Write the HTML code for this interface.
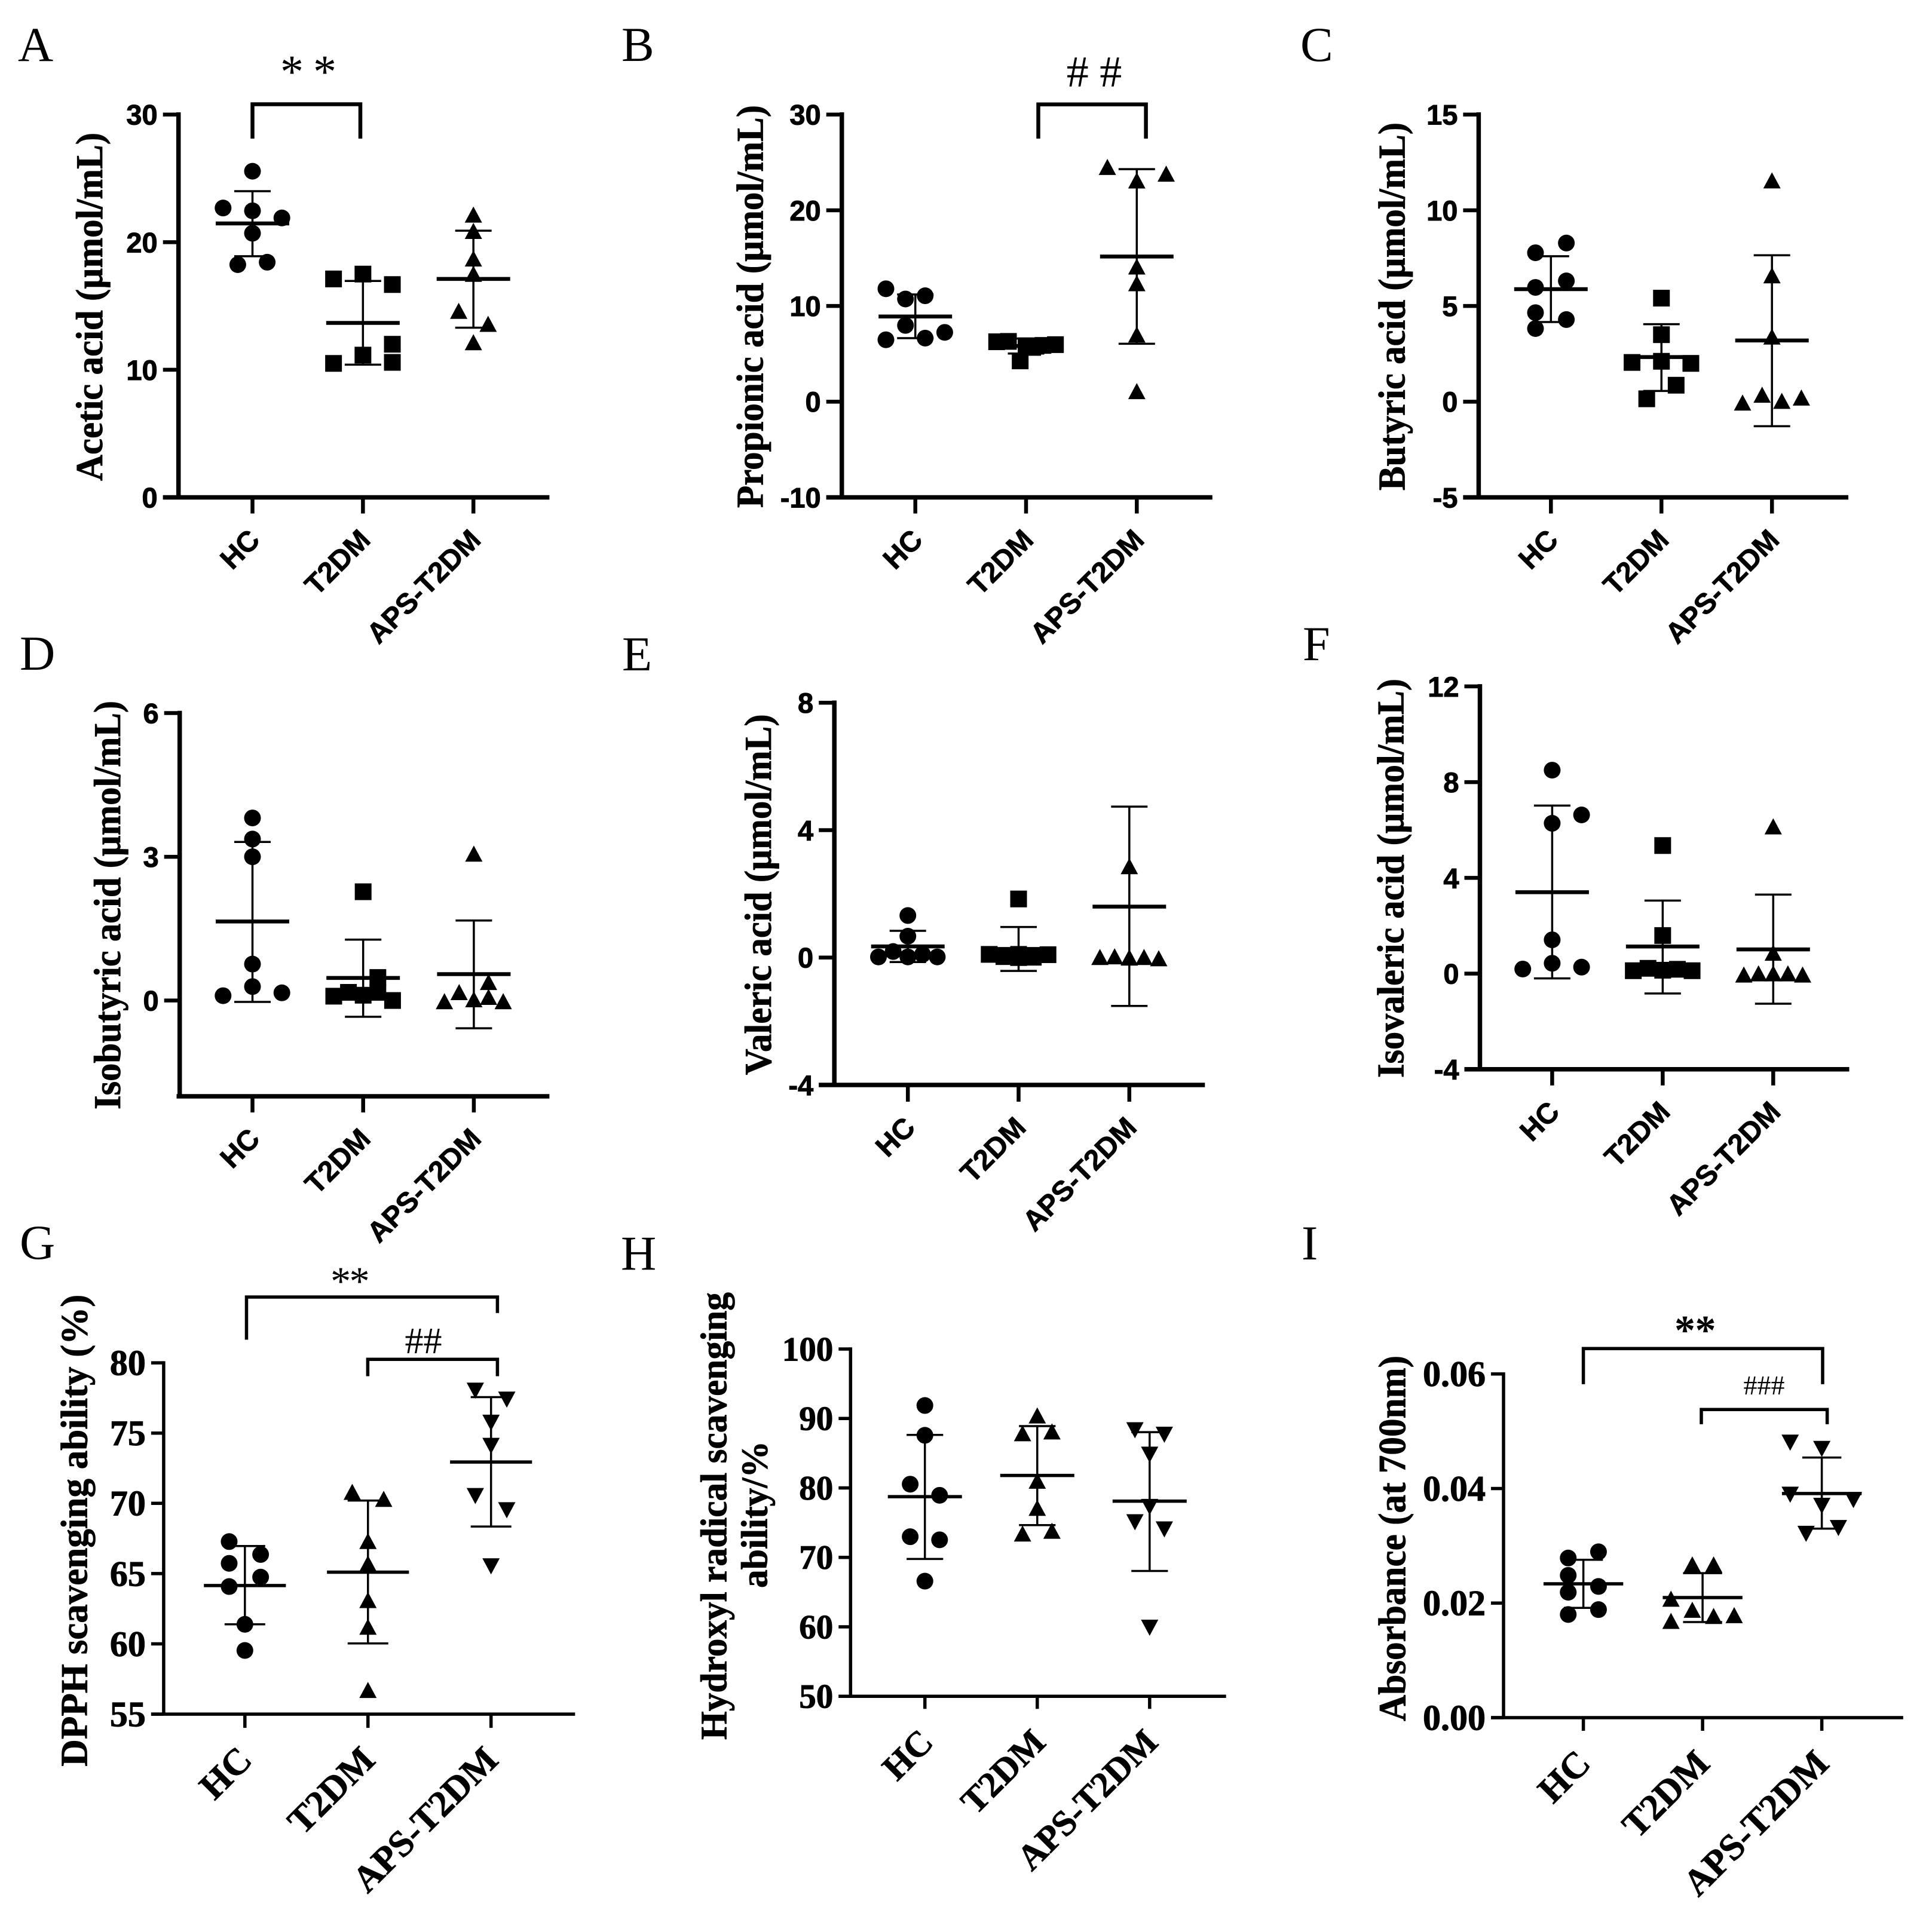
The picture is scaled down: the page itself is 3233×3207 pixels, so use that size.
<!DOCTYPE html>
<html lang="en">
<head>
<meta charset="utf-8">
<title>Short-chain fatty acids and antioxidant ability panels</title>
<style>
html,body{margin:0;padding:0;background:#fff;}
svg{display:block;}
.serif{font-family:"Liberation Serif",serif;}
.sans{font-family:"Liberation Sans",sans-serif;}
.ylab{font-family:"Liberation Serif",serif;font-weight:700;fill:#000;stroke:#000;stroke-width:0.8;text-anchor:middle;}
.letter{font-family:"Liberation Serif",serif;font-size:82px;fill:#000;}
.br{fill:none;stroke:#000;stroke-linejoin:miter;}
.ann{font-family:"Liberation Serif",serif;fill:#000;text-anchor:middle;}
</style>
</head>
<body>
<svg id="figure" xmlns="http://www.w3.org/2000/svg" width="3233" height="3207" viewBox="0 0 3233 3207">
<rect x="0" y="0" width="3233" height="3207" fill="#fff"/>

<text class="letter" x="30" y="102">A</text>
<text class="letter" x="1040" y="102">B</text>
<text class="letter" x="2176" y="102">C</text>
<text class="letter" x="33" y="1121">D</text>
<text class="letter" x="1041" y="1122">E</text>
<text class="letter" x="2180" y="1105">F</text>
<text class="letter" x="33" y="2107">G</text>
<text class="letter" x="1039" y="2125">H</text>
<text class="letter" x="2178" y="2108">I</text>

<text class="ylab" font-size="63" textLength="583" lengthAdjust="spacingAndGlyphs" transform="translate(171,513.5) rotate(-90)">Acetic acid (µmol/mL)</text>
<text class="ylab" font-size="63" textLength="674" lengthAdjust="spacingAndGlyphs" transform="translate(1276.6,513) rotate(-90)">Propionic acid (µmol/mL)</text>
<text class="ylab" font-size="63" textLength="616" lengthAdjust="spacingAndGlyphs" transform="translate(2350.6,513) rotate(-90)">Butyric acid (µmol/mL)</text>
<text class="ylab" font-size="63" textLength="684" lengthAdjust="spacingAndGlyphs" transform="translate(200.9,1515) rotate(-90)">Isobutyric acid (µmol/mL)</text>
<text class="ylab" font-size="63" textLength="604" lengthAdjust="spacingAndGlyphs" transform="translate(1289.8,1497.4) rotate(-90)">Valeric acid (µmol/mL)</text>
<text class="ylab" font-size="63" textLength="668" lengthAdjust="spacingAndGlyphs" transform="translate(2348.5,1470) rotate(-90)">Isovaleric acid (µmol/mL)</text>
<text class="ylab" font-size="64" textLength="790" lengthAdjust="spacingAndGlyphs" transform="translate(145.3,2561.7) rotate(-90)">DPPH scavenging ability (%)</text>
<text class="ylab" font-size="62" textLength="749" lengthAdjust="spacingAndGlyphs" transform="translate(1215.4,2537.5) rotate(-90)">Hydroxyl radical scavenging</text>
<text class="ylab" font-size="62" textLength="246" lengthAdjust="spacingAndGlyphs" transform="translate(1283.6,2535) rotate(-90)">ability/%</text>
<text class="ylab" font-size="65" textLength="612" lengthAdjust="spacingAndGlyphs" transform="translate(2351.5,2575) rotate(-90)">Absorbance (at 700nm)</text>

<path class="br" stroke-width="6.5" d="M422.5 232V174.5H603V232"/>
<text class="ann" font-size="78" word-spacing="-3.5" x="516" y="146">* *</text>
<path class="br" stroke-width="6.5" d="M1737.5 232V174.7H1917.6V232"/>
<text class="ann" font-size="74" x="1831" y="145"># #</text>
<path class="br" stroke-width="5.5" d="M412.5 2242.4V2171H832.4V2197.8"/>
<text class="ann" font-size="68" letter-spacing="-2.5" x="584.6" y="2167">**</text>
<path class="br" stroke-width="5.5" d="M615.4 2303.5V2275.2H832.4V2303.5"/>
<text class="ann" font-size="62" x="708.5" y="2264.8">##</text>
<path class="br" stroke-width="5.5" d="M2649.6 2316.9V2257.3H3050V2316.9"/>
<text class="ann" font-size="70" font-weight="700" letter-spacing="-0.5" x="2836.5" y="2250">**</text>
<path class="br" stroke-width="5.5" d="M2847 2383.9V2359.3H3057.6V2383.9"/>
<text class="ann" font-size="46" x="2952" y="2334">###</text>
</svg>

<script>
const categories = ['HC', 'T2DM', 'APS-T2DM'];

const aTicks = [0, 10, 20, 30];
const aHC = [25.56, 22.68, 22.46, 21.9, 20.7, 18.24, 18.43];
const aHCSlots = [0, -2, 0, 2, 0, -1, 1];
const aT2DM = [17.12, 17.5, 16.68, 12.0, 11.15, 10.5, 10.58];
const aT2DMSlots = [-2, 0, 2, 2, 0, -2, 2];
const aAPS = [22.14, 20.86, 18.7, 17.5, 14.6, 13.58, 12.14];
const aAPSSlots = [0, 0, 0, 0, -1, 1, 0];
const aMeans = [21.47, 13.67, 17.12];
const aUpper = [24.0, 16.96, 20.9];
const aLower = [18.9, 10.4, 13.3];

const bTicks = [-10, 0, 10, 20, 30];
const bHC = [11.8, 10.73, 11.07, 7.97, 7.24, 6.47, 6.64];
const bHCSlots = [-2, -0.67, 0.67, -0.67, 2, -2, 0.67];
const bT2DM = [6.26, 6.3, 4.26, 5.84, 5.67, 5.88, 5.96];
const bT2DMSlots = [-2, -1.2, -0.4, 0, 0.45, 1.15, 2];
const bAPS = [24.5, 23.8, 23.09, 14.1, 12.35, 6.99, 1.07];
const bAPSSlots = [-2, 2, 0, 0, 0, 0, 0];
const bMeans = [8.9, 5.82, 15.17];
const bUpper = [11.2, 6.6, 24.3];
const bLower = [6.64, 5.03, 6.05];

const cTicks = [-5, 0, 5, 10, 15];
const cHC = [7.78, 8.29, 5.97, 6.31, 4.65, 4.29, 3.82];
const cHCSlots = [-1.05, 1.05, -1.05, 1.05, -1.05, 1.05, -1.05];
const cT2DM = [5.41, 3.5, 2.05, 2.11, 2.0, 0.86, 0.15];
const cT2DMSlots = [0, 0, -2, 0, 2, 1, -1];
const cAPS = [11.55, 6.59, 3.39, -0.06, 0.35, 0.03, 0.2];
const cAPSSlots = [0, 0, 0, -2, -0.67, 0.67, 2];
const cMeans = [5.88, 2.33, 3.2];
const cUpper = [7.6, 4.05, 7.65];
const cLower = [4.16, 0.56, -1.28];

const dTicks = [0, 3, 6];
const dHC = [3.81, 3.37, 3.0, 0.76, 0.29, 0.1, 0.16];
const dHCSlots = [0, 0, 0, 0, 0, -2, 2];
const dT2DM = [2.27, 0.48, 0.09, 0.17, 0.11, 0.17, 0.0];
const dT2DMSlots = [0, 1, -2, -1, 0, 1, 2];
const dAPS = [3.06, 0.38, 0.17, -0.02, 0.02, 0.07, -0.02];
const dAPSSlots = [0, 1, -1, -2, 0, 1, 2];
const dMeans = [1.65, 0.47, 0.55];
const dUpper = [3.31, 1.27, 1.67];
const dLower = [-0.03, -0.34, -0.58];

const eTicks = [-4, 0, 4, 8];
const eHC = [1.32, 0.67, 0.19, 0.02, 0.02, 0.1, 0.02];
const eHCSlots = [0, 0, -1, -2, 0, 1, 2];
const eT2DM = [1.84, 0.1, 0.03, 0.1, 0.01, 0.09, 0.0];
const eT2DMSlots = [0, -2, -1, 0, 1, 2, 0];
const eAPS = [2.86, 0.01, 0.03, -0.01, 0.01, -0.03, 0.0];
const eAPSSlots = [0, -2, -1, 0, 1, 2, 0];
const eMeans = [0.35, 0.27, 1.6];
const eUpper = [0.84, 0.96, 4.74];
const eLower = [-0.14, -0.42, -1.52];

const fTicks = [-4, 0, 4, 8, 12];
const fHC = [8.5, 6.63, 6.28, 1.41, 0.43, 0.27, 0.19];
const fHCSlots = [0, 2, 0, 0, 0, 2, -2];
const fT2DM = [5.35, 1.59, 0.12, 0.22, 0.14, 0.18, 0.12];
const fT2DMSlots = [0, 0, -2, -1, 0, 1, 2];
const fAPS = [6.14, 0.86, -0.05, 0.0, 0.0, 0.0, -0.05];
const fAPSSlots = [0, 0, -2, -1, 0, 1, 2];
const fMeans = [3.4, 1.13, 1.01];
const fUpper = [7.02, 3.05, 3.3];
const fLower = [-0.2, -0.83, -1.26];

const gTicks = [55, 60, 65, 70, 75, 80];
const gHC = [67.28, 66.36, 65.73, 64.75, 64.08, 61.39, 59.53];
const gHCSlots = [-1.07, 1.07, -1.07, 1.07, -1.07, 0, 0];
const gT2DM = [70.8, 70.3, 67.3, 65.7, 63.1, 61.2, 56.7];
const gT2DMSlots = [-1.07, 1.07, 0, 0, 0, 0, 0];
const gAPS = [78.04, 77.4, 75.76, 74.11, 70.54, 69.53, 65.54];
const gAPSSlots = [-1.07, 1.07, 0, 0, -1.07, 1.07, 0];
const gMeans = [64.15, 65.1, 72.94];
const gUpper = [66.96, 70.2, 77.56];
const gLower = [61.39, 60.03, 68.35];

const hTicks = [50, 60, 70, 80, 90, 100];
const hHC = [91.87, 87.58, 80.54, 78.94, 72.98, 72.53, 66.58];
const hHCSlots = [0, 0, -1, 1, -1, 1, 0];
const hT2DM = [90.4, 87.84, 88.1, 81.0, 77.1, 73.4, 73.8];
const hT2DMSlots = [0, -1, 1, 0, 0, -1, 1];
const hAPS = [88.35, 87.7, 84.83, 77.3, 75.1, 74.07, 59.92];
const hAPSSlots = [-1, 1, 0, 0, -1, 1, 0];
const hMeans = [78.74, 81.8, 78.1];
const hUpper = [87.64, 88.9, 88.03];
const hLower = [69.78, 74.65, 68.05];

const iTicks = [0, 0.02, 0.04, 0.06];
const iTickLabels = ['0.00', '0.02', '0.04', '0.06'];
const iHC = [0.02895, 0.02787, 0.02484, 0.0229, 0.02189, 0.01886, 0.01801];
const iHCSlots = [1.03, -1.03, -1.03, 1.03, -1.03, 1.03, -1.03];
const iT2DM = [0.0267, 0.0267, 0.02072, 0.01878, 0.0177, 0.01785, 0.01684];
const iT2DMSlots = [-0.7, 0.75, -2.15, -0.7, 0.75, 2.15, -2.15];
const iAPS = [0.04805, 0.04696, 0.03897, 0.03803, 0.03703, 0.03315, 0.03214];
const iAPSSlots = [-2.15, 0, -2.15, 2.15, 0, 1.13, -1.07];
const iMeans = [0.02336, 0.02096, 0.03912];
const iUpper = [0.02756, 0.02523, 0.04541];
const iLower = [0.01917, 0.01669, 0.03299];

const NS = 'http://www.w3.org/2000/svg';
const figure = document.getElementById('figure');
const SLOT = 24.6;

function make(parent, tag, props) {
  const el = document.createElementNS(NS, tag);
  for (const k in props) el.setAttribute(k, props[k]);
  parent.appendChild(el);
  return el;
}

function drawMarker(g, shape, cx, cy, f) {
  let m;
  if (shape === 'circle') {
    m = make(g, 'circle', {cx: cx, cy: cy, r: 14, fill: '#000'});
  } else if (shape === 'square') {
    m = make(g, 'rect', {x: cx - 14, y: cy - 14, width: 28, height: 28, fill: '#000'});
  } else if (shape === 'up') {
    m = make(g, 'polygon', {points: (cx) + ',' + (cy - 14) + ' ' + (cx + 14.5) + ',' + (cy + 13) + ' ' + (cx - 14.5) + ',' + (cy + 13), fill: '#000'});
  } else {
    m = make(g, 'polygon', {points: (cx) + ',' + (cy + 14) + ' ' + (cx + 14.5) + ',' + (cy - 13) + ' ' + (cx - 14.5) + ',' + (cy - 13), fill: '#000'});
  }
  return m;
}

function drawPanel(f, ticks, tickLabels, groups, means, upper, lower) {
  const g = make(figure, 'g', {});
  
  
  const yScale = function (v) { return f.yBot - (v - f.yMin) / (f.yMax - f.yMin) * (f.yBot - f.yTop); };
  const xScale = function (i) { return f.x0 + i * f.step; };
  const family = f.serif ? '"Liberation Serif",serif' : '"Liberation Sans",sans-serif';

  const yAxis = make(g, 'line', {x1: f.axisX, x2: f.axisX, y1: f.yTop - f.axisW / 2, y2: f.yBot, stroke: '#000', 'stroke-width': f.axisW});
  
  
  const xAxis = make(g, 'line', {x1: f.axisX - f.tickLen * (f.noBottomTick ? 0.2 : 1), x2: f.xRight, y1: f.yBot, y2: f.yBot, stroke: '#000', 'stroke-width': f.axisW});
  
  

  ticks.forEach(function (v, i) {
    const y = yScale(v);
    const tick = make(g, 'line', {x1: f.axisX - f.tickLen, x2: f.axisX, y1: y, y2: y, stroke: '#000', 'stroke-width': f.tickW});
    
    
    const lab = make(g, 'text', {x: f.axisX - f.tickLen - f.tickGap, y: y + f.tickFont * f.tickBase, 'text-anchor': 'end', 'font-size': f.tickFont, 'font-weight': 700, 'font-family': family, fill: '#000', stroke: '#000', 'stroke-width': 1});
    
    
    lab.textContent = tickLabels ? tickLabels[i] : String(v);
  });

  categories.forEach(function (c, i) {
    const x = xScale(i);
    const tick = make(g, 'line', {x1: x, x2: x, y1: f.yBot, y2: f.yBot + f.xTickLen, stroke: '#000', 'stroke-width': f.tickW});
    
    
    const px = x + f.labDx;
    const py = f.yBot + f.labDy;
    const lab = make(g, 'text', {transform: 'translate(' + px + ',' + py + ') rotate(-45)', 'text-anchor': 'end', 'font-size': f.labFont, 'font-weight': 700, 'font-family': family, fill: '#000', stroke: '#000', 'stroke-width': 0.8});
    
    
    lab.textContent = c;
  });

  groups.forEach(function (grp, i) {
    const gg = make(g, 'g', {});
    
    
    const cx = xScale(i);
    grp.values.forEach(function (v, j) {
      const m = drawMarker(gg, grp.shape, cx + grp.slots[j] * SLOT, yScale(v), f);
      
      
    });
    const stem = make(gg, 'line', {x1: cx, x2: cx, y1: yScale(upper[i]), y2: yScale(lower[i]), stroke: '#000', 'stroke-width': f.sdW});
    
    
    const capU = make(gg, 'line', {x1: cx - f.capHalf, x2: cx + f.capHalf, y1: yScale(upper[i]), y2: yScale(upper[i]), stroke: '#000', 'stroke-width': f.sdW});
    
    
    const capL = make(gg, 'line', {x1: cx - f.capHalf, x2: cx + f.capHalf, y1: yScale(lower[i]), y2: yScale(lower[i]), stroke: '#000', 'stroke-width': f.sdW});
    
    
    const mean = make(gg, 'line', {x1: cx - f.meanHalf, x2: cx + f.meanHalf, y1: yScale(means[i]), y2: yScale(means[i]), stroke: '#000', 'stroke-width': f.meanW});
    
    
  });
}

const sansBase = {serif: false, axisW: 7.5, tickW: 6.5, tickGap: 9, tickFont: 47, tickBase: 0.36, labFont: 48, labDx: 15, labDy: 74, meanHalf: 61.5, capHalf: 30.5, meanW: 6.5, sdW: 3.5, xTickLen: 27, tickLen: 26};
const serifBase = {serif: true, axisW: 5.5, tickW: 5.5, tickGap: 9, tickFont: 59, tickBase: 0.34, labFont: 61, labDx: 15, labDy: 80, meanHalf: 62, capHalf: 30.6, meanW: 5.5, sdW: 3.5, xTickLen: 23, tickLen: 21};

drawPanel(Object.assign({}, sansBase, {id: 'a', axisX: 298.7, yTop: 191.8, yBot: 832.5, xRight: 919.4, x0: 422.5, step: 184.85, yMin: 0, yMax: 30}),
  aTicks, null,
  [{values: aHC, slots: aHCSlots, shape: 'circle'}, {values: aT2DM, slots: aT2DMSlots, shape: 'square'}, {values: aAPS, slots: aAPSSlots, shape: 'up'}],
  aMeans, aUpper, aLower);

drawPanel(Object.assign({}, sansBase, {id: 'b', axisX: 1408.7, yTop: 191.8, yBot: 832.5, xRight: 2028.8, x0: 1531.7, step: 185.3, yMin: -10, yMax: 30}),
  bTicks, null,
  [{values: bHC, slots: bHCSlots, shape: 'circle'}, {values: bT2DM, slots: bT2DMSlots, shape: 'square'}, {values: bAPS, slots: bAPSSlots, shape: 'up'}],
  bMeans, bUpper, bLower);

drawPanel(Object.assign({}, sansBase, {id: 'c', axisX: 2474.4, yTop: 191.8, yBot: 832.5, xRight: 3093, x0: 2595.3, step: 184.95, yMin: -5, yMax: 15}),
  cTicks, null,
  [{values: cHC, slots: cHCSlots, shape: 'circle'}, {values: cT2DM, slots: cT2DMSlots, shape: 'square'}, {values: cAPS, slots: cAPSSlots, shape: 'up'}],
  cMeans, cUpper, cLower);

drawPanel(Object.assign({}, sansBase, {id: 'd', noBottomTick: true, axisX: 300.7, yTop: 1193.5, yBot: 1835, xRight: 919.4, x0: 422.5, step: 185.2, yMin: -2, yMax: 6}),
  dTicks, null,
  [{values: dHC, slots: dHCSlots, shape: 'circle'}, {values: dT2DM, slots: dT2DMSlots, shape: 'square'}, {values: dAPS, slots: dAPSSlots, shape: 'up'}],
  dMeans, dUpper, dLower);

drawPanel(Object.assign({}, sansBase, {id: 'e', axisX: 1396.2, yTop: 1176.3, yBot: 1816, xRight: 2016.3, x0: 1519.2, step: 185.3, yMin: -4, yMax: 8, xTickLen: 28}),
  eTicks, null,
  [{values: eHC, slots: eHCSlots, shape: 'circle'}, {values: eT2DM, slots: eT2DMSlots, shape: 'square'}, {values: eAPS, slots: eAPSSlots, shape: 'up'}],
  eMeans, eUpper, eLower);

drawPanel(Object.assign({}, sansBase, {id: 'f', axisX: 2476.5, yTop: 1148.9, yBot: 1789.8, xRight: 3094.5, x0: 2597.4, step: 184.95, yMin: -4, yMax: 12}),
  fTicks, null,
  [{values: fHC, slots: fHCSlots, shape: 'circle'}, {values: fT2DM, slots: fT2DMSlots, shape: 'square'}, {values: fAPS, slots: fAPSSlots, shape: 'up'}],
  fMeans, fUpper, fLower);

drawPanel(Object.assign({}, serifBase, {id: 'g', axisX: 273.9, yTop: 2281.1, yBot: 2869.1, xRight: 962.3, x0: 409.8, step: 205.95, yMin: 55, yMax: 80, meanHalf: 68.6, capHalf: 34, tickFont: 60, labFont: 62}),
  gTicks, null,
  [{values: gHC, slots: gHCSlots, shape: 'circle'}, {values: gT2DM, slots: gT2DMSlots, shape: 'up'}, {values: gAPS, slots: gAPSSlots, shape: 'down'}],
  gMeans, gUpper, gLower);

drawPanel(Object.assign({}, serifBase, {id: 'h', axisX: 1423.3, yTop: 2258, yBot: 2839.3, xRight: 2051.7, x0: 1547.7, step: 188.05, yMin: 50, yMax: 100, tickFont: 57, labFont: 60, labDx: 17, xTickLen: 21, tickLen: 20}),
  hTicks, null,
  [{values: hHC, slots: hHCSlots, shape: 'circle'}, {values: hT2DM, slots: hT2DMSlots, shape: 'up'}, {values: hAPS, slots: hAPSSlots, shape: 'down'}],
  hMeans, hUpper, hLower);

drawPanel(Object.assign({}, serifBase, {id: 'i', axisX: 2516, yTop: 2299.7, yBot: 2875, xRight: 3184.8, x0: 2649.6, step: 199.5, yMin: 0, yMax: 0.06, meanHalf: 66.7, capHalf: 32.7, tickFont: 60, labFont: 62, xTickLen: 22}),
  iTicks, iTickLabels,
  [{values: iHC, slots: iHCSlots, shape: 'circle'}, {values: iT2DM, slots: iT2DMSlots, shape: 'up'}, {values: iAPS, slots: iAPSSlots, shape: 'down'}],
  iMeans, iUpper, iLower);
</script>
</body>
</html>
